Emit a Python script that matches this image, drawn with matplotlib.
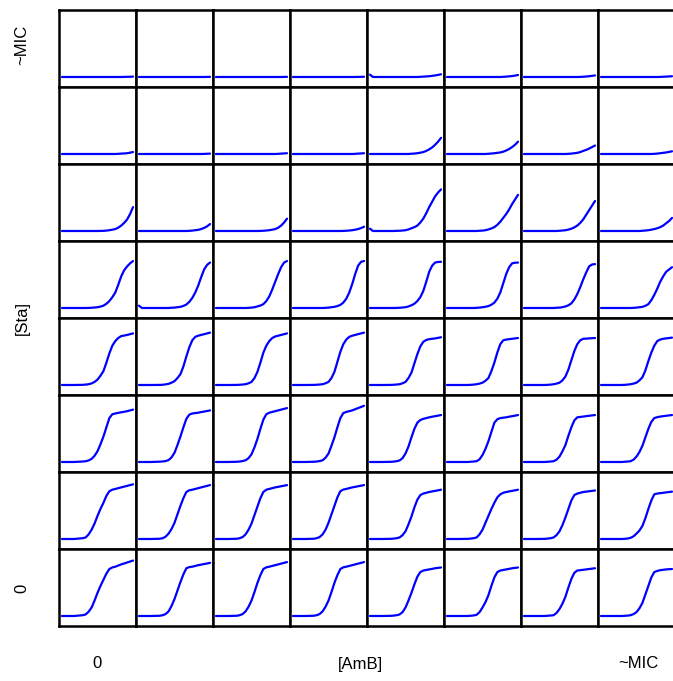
import matplotlib
matplotlib.use("Agg")
import matplotlib.pyplot as plt

# read times (h); the first hours are flat lag phase everywhere
hours = [0, 1, 4, 7, 8, 9, 10, 11, 12, 13, 14, 15, 16, 17, 18, 19, 20, 21, 22, 23, 24]

# normalised OD per well, one block per [Sta] row (top = ~MIC, bottom = 0)
# each block: 8 wells, [AmB] from 0 (left) to ~MIC (right)
od_sta_mic = [
    [.13, .13, .13, .13, .13, .13, .13, .13, .13, .13, .13, .13, .13, .13, .13, .13, .13, .131, .132, .133, .135],
    [.13, .13, .13, .13, .13, .13, .13, .13, .13, .13, .13, .13, .13, .13, .13, .13, .13, .13, .13, .131, .132],
    [.13, .13, .13, .13, .13, .13, .13, .13, .13, .13, .13, .13, .13, .13, .13, .13, .13, .13, .13, .131, .132],
    [.13, .13, .13, .13, .13, .13, .13, .13, .13, .13, .13, .13, .13, .13, .13, .13, .13, .13, .131, .132, .133],
    [.16, .13, .13, .13, .13, .13, .13, .13, .13, .13, .13, .13, .13, .132, .135, .137, .14, .145, .15, .157, .165],
    [.13, .13, .13, .13, .13, .13, .13, .13, .13, .13, .13, .13, .13, .13, .13, .132, .135, .138, .142, .148, .156],
    [.13, .13, .13, .13, .13, .13, .13, .13, .13, .13, .13, .13, .13, .13, .13, .131, .133, .136, .14, .145, .15],
    [.13, .13, .13, .13, .13, .13, .13, .13, .13, .13, .13, .13, .13, .13, .13, .13, .131, .133, .135, .137, .14],
]
od_sta_7 = [
    [.13, .13, .13, .13, .13, .13, .13, .13, .13, .13, .13, .13, .13, .13, .13, .132, .135, .137, .14, .147, .155],
    [.13, .13, .13, .13, .13, .13, .13, .13, .13, .13, .13, .13, .13, .13, .13, .13, .13, .13, .131, .133, .135],
    [.13, .13, .13, .13, .13, .13, .13, .13, .13, .13, .13, .13, .13, .13, .13, .13, .13, .132, .135, .137, .14],
    [.13, .13, .13, .13, .13, .13, .13, .13, .13, .13, .13, .13, .13, .13, .13, .13, .13, .132, .135, .137, .14],
    [.13, .13, .13, .13, .13, .13, .13, .13, .13, .13, .133, .136, .14, .147, .155, .17, .19, .215, .25, .29, .34],
    [.13, .13, .13, .13, .13, .13, .13, .13, .13, .13, .133, .136, .14, .145, .15, .16, .175, .195, .22, .25, .29],
    [.13, .13, .13, .13, .13, .13, .13, .13, .13, .13, .13, .132, .135, .14, .145, .155, .17, .183, .2, .22, .24],
    [.13, .13, .13, .13, .13, .13, .13, .13, .13, .13, .13, .13, .13, .13, .132, .135, .14, .145, .15, .157, .165],
]
od_sta_6 = [
    [.13, .13, .13, .13, .13, .13, .13, .13, .13, .131, .132, .135, .14, .147, .155, .173, .2, .235, .28, .35, .44],
    [.13, .13, .13, .13, .13, .13, .13, .13, .13, .13, .13, .13, .13, .132, .135, .14, .145, .155, .17, .19, .22],
    [.13, .13, .13, .13, .13, .13, .13, .13, .13, .13, .13, .131, .133, .136, .14, .147, .155, .172, .2, .24, .29],
    [.13, .13, .13, .13, .13, .13, .13, .13, .13, .13, .13, .13, .13, .131, .133, .136, .14, .147, .155, .168, .185],
    [.16, .13, .13, .13, .13, .132, .133, .136, .14, .15, .165, .18, .2, .24, .29, .36, .44, .51, .58, .63, .67],
    [.13, .13, .13, .13, .13, .13, .13, .133, .135, .14, .15, .163, .18, .21, .25, .3, .35, .41, .48, .54, .6],
    [.13, .13, .13, .13, .13, .13, .13, .13, .133, .136, .14, .148, .16, .177, .2, .235, .28, .34, .4, .46, .52],
    [.13, .13, .13, .13, .13, .13, .13, .13, .13, .13, .133, .136, .14, .147, .155, .165, .18, .2, .23, .26, .3],
]
od_sta_5 = [
    [.13, .13, .13, .13, .13, .131, .133, .136, .14, .148, .16, .185, .22, .27, .33, .43, .54, .62, .67, .71, .74],
    [.16, .13, .13, .13, .13, .13, .13, .133, .135, .14, .145, .157, .175, .21, .26, .33, .42, .53, .63, .69, .72],
    [.13, .13, .13, .13, .13, .13, .13, .132, .135, .14, .15, .162, .18, .22, .28, .37, .47, .57, .66, .72, .74],
    [.13, .13, .13, .13, .13, .13, .13, .132, .135, .14, .145, .155, .17, .2, .25, .33, .44, .57, .68, .73, .74],
    [.13, .13, .13, .13, .13, .131, .133, .136, .14, .15, .165, .185, .22, .27, .35, .47, .6, .68, .72, .728, .73],
    [.13, .13, .13, .13, .13, .13, .132, .135, .14, .146, .155, .172, .2, .25, .33, .45, .57, .66, .71, .718, .72],
    [.13, .13, .13, .13, .13, .13, .13, .133, .135, .14, .15, .165, .19, .24, .31, .4, .5, .59, .67, .695, .70],
    [.13, .13, .13, .13, .13, .13, .13, .132, .135, .14, .145, .158, .18, .23, .3, .38, .47, .54, .6, .63, .66],
]
od_sta_4 = [
    [.13, .13, .13, .132, .135, .14, .15, .17, .2, .25, .31, .42, .54, .64, .70, .74, .765, .772, .78, .79, .80],
    [.13, .13, .13, .131, .133, .138, .145, .16, .18, .22, .27, .37, .5, .62, .71, .755, .77, .78, .79, .80, .81],
    [.13, .13, .13, .131, .133, .136, .14, .152, .17, .22, .3, .42, .55, .64, .70, .74, .76, .77, .78, .79, .80],
    [.13, .13, .13, .131, .133, .136, .14, .152, .17, .22, .3, .43, .56, .66, .72, .755, .77, .78, .79, .80, .81],
    [.13, .13, .13, .131, .133, .136, .14, .152, .17, .22, .29, .41, .53, .63, .69, .715, .725, .73, .735, .742, .75],
    [.13, .13, .13, .13, .132, .135, .14, .148, .16, .185, .22, .31, .42, .55, .66, .71, .72, .725, .73, .735, .74],
    [.13, .13, .13, .13, .132, .135, .14, .148, .16, .19, .24, .33, .45, .57, .66, .71, .73, .732, .735, .738, .74],
    [.13, .13, .13, .13, .132, .135, .14, .148, .16, .19, .23, .32, .44, .55, .64, .70, .72, .73, .735, .74, .745],
]
od_sta_3 = [
    [.13, .13, .13, .136, .14, .15, .17, .21, .27, .36, .46, .58, .70, .75, .76, .768, .775, .782, .79, .80, .81],
    [.13, .13, .13, .134, .137, .142, .155, .19, .25, .35, .46, .58, .69, .745, .76, .765, .77, .778, .785, .792, .80],
    [.13, .13, .13, .133, .136, .142, .152, .18, .23, .32, .43, .56, .68, .75, .77, .78, .79, .80, .81, .82, .83],
    [.13, .13, .13, .133, .136, .142, .152, .185, .24, .34, .45, .58, .70, .765, .78, .79, .80, .815, .83, .845, .86],
    [.13, .13, .13, .132, .135, .14, .15, .18, .24, .33, .45, .56, .64, .675, .69, .70, .71, .718, .725, .732, .74],
    [.13, .13, .13, .13, .133, .136, .14, .165, .22, .3, .4, .52, .64, .685, .70, .705, .71, .718, .725, .732, .74],
    [.13, .13, .13, .13, .133, .136, .14, .16, .2, .27, .35, .47, .58, .67, .71, .715, .72, .725, .73, .735, .74],
    [.13, .13, .13, .13, .133, .136, .14, .16, .2, .26, .34, .45, .56, .65, .70, .712, .72, .725, .73, .735, .74],
]
od_sta_2 = [
    [.13, .13, .13, .14, .15, .19, .25, .33, .43, .52, .6, .69, .75, .77, .78, .79, .80, .81, .82, .83, .84],
    [.13, .13, .13, .133, .14, .16, .2, .26, .34, .45, .56, .66, .74, .763, .77, .78, .79, .80, .81, .82, .83],
    [.13, .13, .13, .133, .14, .155, .19, .25, .33, .44, .55, .66, .74, .77, .78, .79, .80, .807, .815, .822, .83],
    [.13, .13, .13, .133, .14, .155, .19, .25, .34, .45, .56, .67, .75, .772, .78, .79, .80, .807, .815, .822, .83],
    [.13, .13, .13, .132, .135, .14, .15, .18, .23, .32, .42, .54, .64, .70, .72, .73, .74, .748, .755, .762, .77],
    [.13, .13, .13, .132, .135, .14, .15, .19, .25, .34, .43, .52, .6, .67, .71, .73, .74, .748, .755, .762, .77],
    [.13, .13, .13, .132, .135, .14, .15, .18, .23, .31, .41, .52, .63, .70, .72, .73, .74, .745, .75, .755, .76],
    [.13, .13, .13, .13, .132, .136, .145, .165, .2, .24, .3, .4, .52, .63, .71, .72, .725, .73, .735, .74, .745],
]
od_sta_0 = [
    [.13, .13, .13, .14, .15, .185, .24, .33, .43, .52, .6, .68, .74, .76, .77, .785, .80, .812, .825, .837, .85],
    [.13, .13, .13, .133, .14, .155, .19, .26, .35, .46, .57, .67, .75, .765, .77, .78, .79, .797, .805, .812, .82],
    [.13, .13, .13, .133, .14, .155, .19, .25, .33, .44, .56, .66, .74, .762, .77, .78, .79, .80, .81, .82, .83],
    [.13, .13, .13, .133, .14, .155, .19, .25, .33, .44, .56, .66, .74, .762, .77, .78, .79, .80, .81, .82, .83],
    [.13, .13, .13, .132, .135, .14, .15, .18, .24, .33, .43, .54, .64, .70, .72, .728, .735, .742, .75, .755, .76],
    [.13, .13, .13, .13, .133, .137, .145, .18, .24, .31, .4, .52, .63, .70, .72, .728, .735, .742, .75, .755, .76],
    [.13, .13, .13, .13, .133, .136, .14, .17, .22, .29, .38, .5, .61, .69, .72, .725, .73, .735, .74, .745, .75],
    [.13, .13, .13, .13, .132, .135, .14, .155, .18, .23, .3, .41, .52, .63, .70, .715, .725, .73, .735, .738, .74],
]

rows = [od_sta_mic, od_sta_7, od_sta_6, od_sta_5, od_sta_4, od_sta_3, od_sta_2, od_sta_0]

sta_labels = ["~MIC", "[Sta]", "0"]
amb_labels = ["0", "[AmB]", "~MIC"]

plt.rcParams['font.family'] = ['Liberation Sans', 'DejaVu Sans']

W, H = 673, 681
fig, axes = plt.subplots(8, 8, figsize=(W / 100, H / 100), dpi=100,
                         gridspec_kw=dict(left=59 / W, right=675 / W,
                                          bottom=1 - 626 / H, top=1 - 10 / H,
                                          wspace=0, hspace=0))

for i, row in enumerate(rows):
    for j, od in enumerate(row):
        assert len(od) == len(hours), (i, j, len(od))
        ax = axes[i, j]
        ax.plot(hours, od, color="#0000ff", lw=1.6, solid_joinstyle="round",
                solid_capstyle="round")
        ax.set_xlim(-1, 25)
        ax.set_ylim(0, 1)
        ax.set_xticks([])
        ax.set_yticks([])
        for s in ax.spines.values():
            s.set_linewidth(1.8)
            s.set_color("black")

# corner / axis annotations
fig.text(22 / W, 1 - 45 / H, sta_labels[0], rotation=90, ha="center", va="center", fontsize=12)
fig.text(22 / W, 1 - 318 / H, sta_labels[1], rotation=90, ha="center", va="center", fontsize=12)
fig.text(22 / W, 1 - 588 / H, sta_labels[2], rotation=90, ha="center", va="center", fontsize=12)
fig.text(97 / W, 1 - 664 / H, amb_labels[0], ha="center", va="center", fontsize=12)
fig.text(360 / W, 1 - 664 / H, amb_labels[1], ha="center", va="center", fontsize=12)
fig.text(638 / W, 1 - 664 / H, amb_labels[2], ha="center", va="center", fontsize=12)

fig.savefig("out.png", dpi=100)
